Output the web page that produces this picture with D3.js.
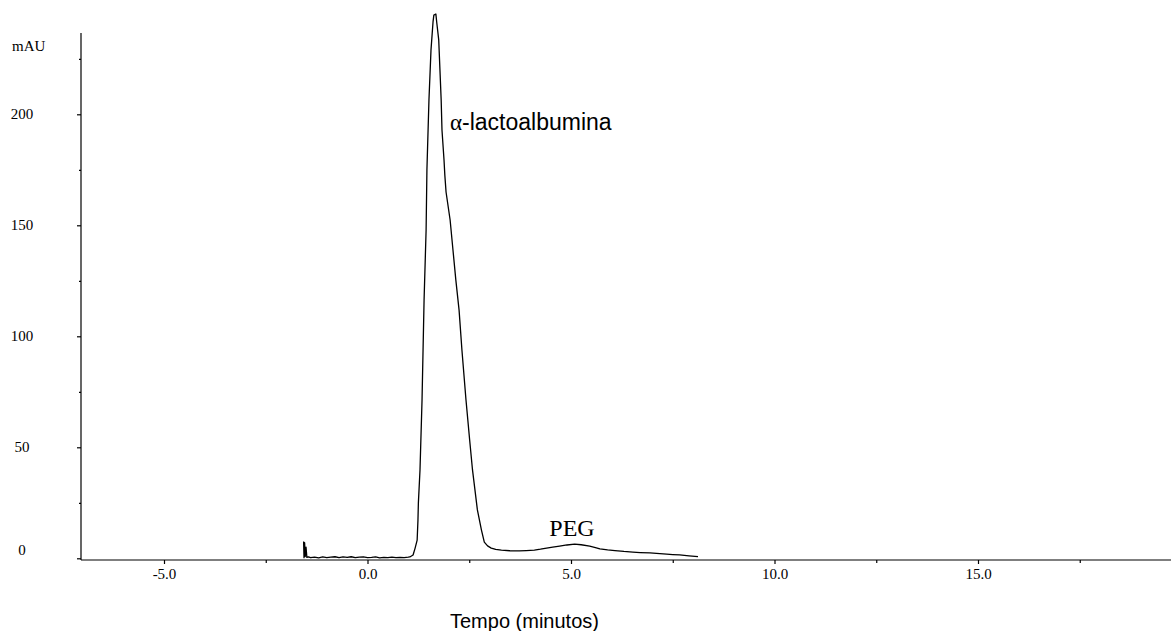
<!doctype html>
<html lang="pt">
<head>
<meta charset="utf-8" />
<title>Cromatograma</title>
<script src="https://d3js.org/d3.v7.min.js"></script>
<style>
  body { margin: 0; background: #fff; }
  svg { display: block; }
</style>
</head>
<body>
<svg></svg>
<script>
// chromatogram trace (min, mAU)
const times = [-1.57, -1.56, -1.545, -1.53, -1.51, -1.49, -1.45, -1.4, -1.3, -1.2, -1.1, -1.0, -0.9, -0.8, -0.7, -0.6,
  -0.5, -0.4, -0.3, -0.2, -0.1, 0.0, 0.1, 0.2, 0.3, 0.4, 0.5, 0.6, 0.7, 0.8, 0.9, 1.0,
  1.04, 1.12, 1.17, 1.22, 1.24, 1.25, 1.29, 1.34, 1.39, 1.44, 1.46, 1.51, 1.56, 1.61, 1.63, 1.68,
  1.70, 1.75, 1.78, 1.81, 1.83, 1.88, 1.90, 1.93, 2.03, 2.10, 2.17, 2.25, 2.32, 2.42, 2.51, 2.58,
  2.70, 2.80, 2.87, 2.95, 3.04, 3.15, 3.29, 3.5, 3.73, 3.9, 4.10, 4.25, 4.40, 4.55, 4.72, 4.9,
  5.09, 5.25, 5.46, 5.6, 5.71, 5.9, 6.08, 6.3, 6.52, 6.7, 6.94, 7.1, 7.35, 7.5, 7.67, 7.9, 8.12];
const mau = [7.6, 0.3, 7.0, 0.8, 5.0, 0.4, 0.6, 0.3, 0.5, 0.2, 0.6, 0.3, 0.5, 0.7, 0.3, 0.6,
  0.4, 0.7, 0.3, 0.5, 0.6, 0.3, 0.4, 0.6, 0.2, 0.4, 0.3, 0.5, 0.3, 0.4, 0.3, 0.5,
  0.6, 1.5, 4.6, 8.2, 17.3, 24.9, 39.8, 71.3, 116.3, 147.9, 174.9, 206.4, 228.9, 241.6, 244.7, 245.2,
  241.6, 233.5, 220, 206.4, 192.9, 179.4, 172.6, 165, 152.4, 138.9, 125.4, 111.8, 93.8, 71.3, 53.3, 39.8,
  21.8, 12.7, 7.3, 5.6, 4.6, 4.0, 3.7, 3.4, 3.3, 3.5, 3.7, 4.1, 4.6, 5.0, 5.5, 6.0,
  6.4, 6.1, 5.5, 4.8, 4.2, 3.8, 3.5, 3.1, 2.8, 2.6, 2.4, 2.2, 1.9, 1.7, 1.5, 1.1, 0.8];

const xMajor = [-5, 0, 5, 10, 15];
const xMinor = [-2.5, 2.5, 7.5, 12.5, 17.5];
const yMajor = [0, 50, 100, 150, 200];
const yMinor = [25, 75, 125, 175, 225];

const width = 1171, height = 631;
const serif = "Liberation Serif, Times New Roman, serif";
const sans = "Liberation Sans, Arial, sans-serif";
const svg = d3.select("svg").attr("width", width).attr("height", height);

const x = d3.scaleLinear().domain([0, 5]).range([367.5, 571]);
const y = d3.scaleLinear().domain([0, 200]).range([558.3, 114.3]);
const axisY = 560;

// x axis
const gx = svg.append("g").attr("transform", `translate(0,${axisY})`);
gx.append("line").attr("x1", 81).attr("x2", width).attr("stroke", "#000").attr("stroke-width", 1.3);
gx.call(d3.axisBottom(x).tickValues(xMajor).tickSize(4).tickFormat(d => d.toFixed(1)))
  .call(g => g.select(".domain").remove())
  .call(g => g.selectAll("text").attr("font-family", serif)
      .attr("font-size", 15).attr("fill", "#000").attr("dy", 0).attr("y", 19))
  .call(g => g.selectAll("line").attr("stroke", "#000").attr("stroke-width", 1.2));
gx.append("g").call(d3.axisBottom(x).tickValues(xMinor).tickSize(3).tickFormat(""))
  .call(g => g.select(".domain").remove())
  .call(g => g.selectAll("line").attr("stroke", "#000").attr("stroke-width", 1.2));
gx.append("text").attr("x", 1150).attr("y", 19).attr("text-anchor", "middle")
  .attr("font-family", serif).attr("font-size", 15).text("min");

// y axis
const gy = svg.append("g").attr("transform", "translate(81,0)");
gy.append("line").attr("y1", axisY).attr("y2", 33).attr("stroke", "#000").attr("stroke-width", 1.3);
gy.call(d3.axisLeft(y).tickValues(yMajor).tickSize(4).tickFormat(""))
  .call(g => g.select(".domain").remove())
  .call(g => g.selectAll("line").attr("stroke", "#000").attr("stroke-width", 1.2));
gy.append("g").call(d3.axisLeft(y).tickValues(yMinor).tickSize(2).tickFormat(""))
  .call(g => g.select(".domain").remove())
  .call(g => g.selectAll("line").attr("stroke", "#000").attr("stroke-width", 1.2));

svg.append("g").selectAll("text").data(yMajor).join("text")
  .attr("x", 22)
  .attr("y", d => y(d) + (d === 0 ? -3 : 5))
  .attr("text-anchor", "middle")
  .attr("font-family", serif)
  .attr("font-size", 15)
  .text(d => d);

svg.append("text").attr("x", 12).attr("y", 51)
  .attr("font-family", serif).attr("font-size", 15).text("mAU");

// trace
const pts = times.map((t, i) => [t, mau[i]]);
svg.append("path")
  .datum(pts)
  .attr("d", d3.line().x(d => x(d[0])).y(d => y(d[1])))
  .attr("fill", "none")
  .attr("stroke", "#000")
  .attr("stroke-width", 1.3)
  .attr("stroke-linejoin", "round");

// peak labels
const lab = svg.append("text").attr("x", 450).attr("y", 130)
  .attr("font-family", sans).attr("font-size", 23);
lab.append("tspan").attr("font-family", serif).text("α");
lab.append("tspan").text("-lactoalbumina");

svg.append("text").attr("x", 572).attr("y", 536).attr("text-anchor", "middle")
  .attr("font-family", serif).attr("font-size", 24).text("PEG");

svg.append("text").attr("x", 450).attr("y", 628)
  .attr("font-family", sans).attr("font-size", 20).text("Tempo (minutos)");
</script>
</body>
</html>
